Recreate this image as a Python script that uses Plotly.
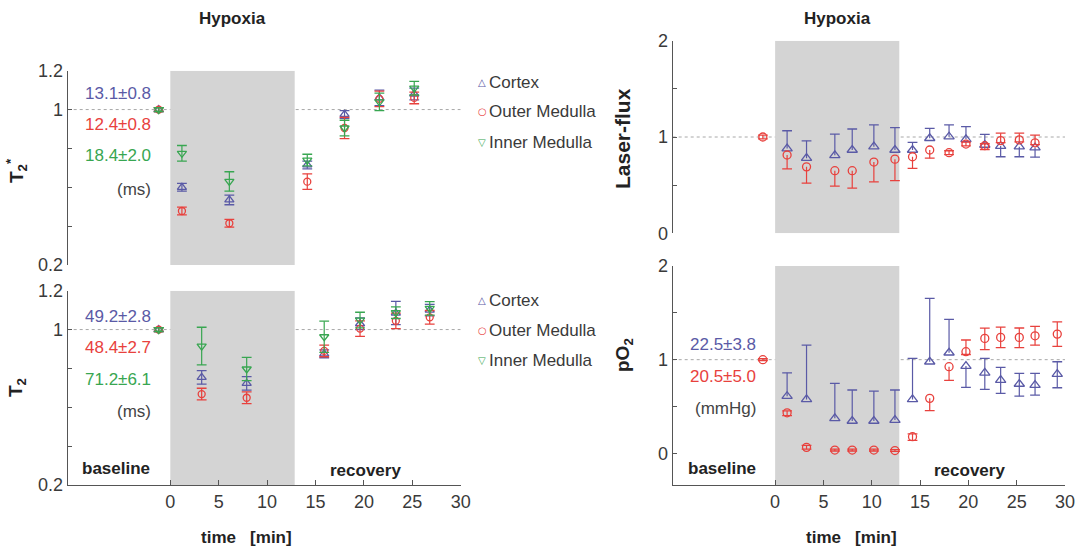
import plotly.graph_objects as go

W, H = 1082, 551

# ---------------- data ----------------
# T2* (top left)
t2s_time = [-1.2, 1.2, 6.1, 14.15, 18.0, 21.6, 25.2]
t2s_cortex = [1.0, 0.60, 0.535, 0.715, 0.975, 1.06, 1.08]
t2s_cortex_err = [0.01, 0.02, 0.025, 0.02, 0.02, 0.04, 0.03]
t2s_outer = [1.0, 0.478, 0.415, 0.629, 0.905, 1.055, 1.06]
t2s_outer_err = [0.01, 0.02, 0.02, 0.04, 0.055, 0.04, 0.03]
t2s_inner = [1.0, 0.775, 0.63, 0.74, 0.905, 1.04, 1.11]
t2s_inner_err = [0.01, 0.04, 0.05, 0.03, 0.04, 0.045, 0.035]

# T2 (bottom left)
t2_time = [-1.2, 3.24, 7.89, 15.9, 19.6, 23.3, 26.8]
t2_cortex = [1.0, 0.754, 0.723, 0.875, 1.03, 1.085, 1.10]
t2_cortex_err = [0.01, 0.035, 0.035, 0.02, 0.03, 0.06, 0.03]
t2_outer = [1.0, 0.668, 0.649, 0.89, 1.005, 1.045, 1.063]
t2_outer_err = [0.01, 0.03, 0.03, 0.03, 0.04, 0.04, 0.035]
t2_inner = [1.0, 0.915, 0.797, 0.963, 1.049, 1.087, 1.109]
t2_inner_err = [0.01, 0.097, 0.06, 0.08, 0.04, 0.03, 0.035]

# Laser-flux (top right)
lf_cortex_time = [1.24, 3.25, 6.18, 7.98, 10.22, 12.4, 14.22, 16.0, 18.0, 19.75, 21.7, 23.34, 25.27, 26.9]
lf_cortex = [0.88, 0.78, 0.81, 0.865, 0.90, 0.865, 0.865, 0.987, 1.003, 0.976, 0.917, 0.906, 0.90, 0.89]
lf_cortex_up = [0.185, 0.18, 0.22, 0.218, 0.225, 0.232, 0.08, 0.103, 0.122, 0.131, 0.111, 0.0, 0.0, 0.0]
lf_cortex_dn = [0, 0, 0, 0, 0, 0, 0, 0, 0, 0, 0.0, 0.111, 0.105, 0.10]
lf_outer_time = [-1.27, 1.24, 3.25, 6.18, 7.98, 10.22, 12.4, 14.22, 16.0, 18.0, 19.75, 21.7, 23.34, 25.27, 26.9]
lf_outer = [1.0, 0.813, 0.69, 0.65, 0.65, 0.74, 0.77, 0.795, 0.865, 0.837, 0.927, 0.91, 0.962, 0.97, 0.94]
lf_outer_up = [0.02, 0, 0, 0, 0, 0, 0, 0, 0, 0.02, 0.02, 0.02, 0.078, 0.07, 0.08]
lf_outer_dn = [0.02, 0.145, 0.17, 0.16, 0.18, 0.205, 0.224, 0.12, 0.085, 0.02, 0.02, 0.04, 0.02, 0.02, 0.02]

# pO2 (bottom right)
po2_cortex_time = [1.24, 3.25, 6.18, 7.98, 10.22, 12.4, 14.22, 16.0, 18.0, 19.75, 21.7, 23.34, 25.27, 26.9, 29.2]
po2_cortex = [0.61, 0.576, 0.374, 0.345, 0.345, 0.355, 0.576, 0.978, 1.074, 0.932, 0.86, 0.782, 0.74, 0.729, 0.846]
po2_cortex_up = [0.25, 0.58, 0.373, 0.331, 0.32, 0.321, 0.438, 0.676, 0.356, 0.0, 0.154, 0.136, 0.114, 0.125, 0.132]
po2_cortex_dn = [0, 0, 0, 0, 0, 0, 0, 0, 0, 0.228, 0.177, 0.142, 0.13, 0.107, 0.146]
po2_outer_time = [-1.27, 1.24, 3.25, 6.18, 7.98, 10.22, 12.4, 14.22, 16.0, 18.0, 19.75, 21.7, 23.34, 25.27, 26.9, 29.2]
po2_outer = [1.0, 0.433, 0.064, 0.035, 0.035, 0.035, 0.03, 0.178, 0.587, 0.925, 1.085, 1.227, 1.238, 1.238, 1.255, 1.273]
po2_outer_up = [0.01, 0.02, 0.02, 0.01, 0.01, 0.01, 0.01, 0.03, 0, 0, 0.125, 0.11, 0.11, 0.1, 0.1, 0.13]
po2_outer_dn = [0.01, 0.03, 0.02, 0.01, 0.01, 0.01, 0.01, 0.04, 0.13, 0.145, 0.03, 0.12, 0.11, 0.11, 0.1, 0.13]

hypoxia_start, hypoxia_end = 0, 12.85
x_ticks = [0, 5, 10, 15, 20, 25, 30]
left_yticks = [0.2, 0.4, 0.6, 0.8, 1.0, 1.2]
left_yticktext = ["0.2", "", "", "", "1", "1.2"]
right_yticks = [0, 0.5, 1, 1.5, 2]
right_yticktext = ["0", "", "1", "", "2"]

series_names = ["Cortex", "Outer Medulla", "Inner Medulla"]
t2s_labels = ["13.1±0.8", "12.4±0.8", "18.4±2.0", "(ms)"]
t2_labels = ["49.2±2.8", "48.4±2.7", "71.2±6.1", "(ms)"]
po2_labels = ["22.5±3.8", "20.5±5.0", "(mmHg)"]

# ---------------- styles ----------------
BLUE = '#5a5aa6'
RED = '#e8413d'
GREEN = '#38a651'
TXT = '#3a3a3a'
AX = '#555555'
BOX = '#d4d4d4'
SANS = 'Liberation Sans, Arial, sans-serif'
BOLD = 'Liberation Sans, Arial, sans-serif'


def P(x, y):
    return x / W, 1 - y / H


fig = go.Figure()


def add_series(t, v, up, dn, color, symbol, size, xa, ya):
    xs, ys, cx, cy = [], [], [], []
    for ti, vi, u, d in zip(t, v, up, dn):
        xs += [ti, ti, None]
        ys += [vi - d, vi + u, None]
        if u > 0:
            cx.append(ti); cy.append(vi + u)
        if d > 0:
            cx.append(ti); cy.append(vi - d)
    common = dict(xaxis=xa, yaxis=ya, showlegend=False, hoverinfo='skip')
    fig.add_trace(go.Scatter(x=xs, y=ys, mode='lines', line=dict(color=color, width=1.2), **common))
    fig.add_trace(go.Scatter(x=cx, y=cy, mode='markers',
                             marker=dict(symbol='line-ew', size=7, line=dict(color=color, width=1.3)), **common))
    fig.add_trace(go.Scatter(x=t, y=v, mode='markers',
                             marker=dict(symbol=symbol, size=size, color=color, line=dict(width=1.3)), **common))


# T2*
add_series(t2s_time, t2s_cortex, t2s_cortex_err, t2s_cortex_err, BLUE, 'triangle-up-open', 8, 'x', 'y')
add_series(t2s_time, t2s_outer, t2s_outer_err, t2s_outer_err, RED, 'circle-open', 7, 'x', 'y')
add_series(t2s_time, t2s_inner, t2s_inner_err, t2s_inner_err, GREEN, 'triangle-down-open', 8, 'x', 'y')
# T2
add_series(t2_time, t2_cortex, t2_cortex_err, t2_cortex_err, BLUE, 'triangle-up-open', 8, 'x2', 'y2')
add_series(t2_time, t2_outer, t2_outer_err, t2_outer_err, RED, 'circle-open', 7, 'x2', 'y2')
add_series(t2_time, t2_inner, t2_inner_err, t2_inner_err, GREEN, 'triangle-down-open', 8, 'x2', 'y2')
# Laser flux
add_series(lf_cortex_time, lf_cortex, lf_cortex_up, lf_cortex_dn, BLUE, 'triangle-up-open', 9, 'x3', 'y3')
add_series(lf_outer_time, lf_outer, lf_outer_up, lf_outer_dn, RED, 'circle-open', 8, 'x3', 'y3')
# pO2
add_series(po2_cortex_time, po2_cortex, po2_cortex_up, po2_cortex_dn, BLUE, 'triangle-up-open', 9, 'x4', 'y4')
add_series(po2_outer_time, po2_outer, po2_outer_up, po2_outer_dn, RED, 'circle-open', 8, 'x4', 'y4')

# ---------------- axes ----------------
XL = [67.7 / W, 460.7 / W]
XR = [672.7 / W, 1065 / W]
xrange_ = [-10.6, 30]

yaxis_common = dict(showline=True, linecolor=AX, linewidth=1, ticks='inside', ticklen=4, tickcolor=AX,
                    tickfont=dict(family=SANS, size=18, color=TXT), showgrid=False, zeroline=False,
                    automargin=False)
xhidden = dict(visible=False, range=xrange_, showgrid=False, zeroline=False, automargin=False)
xshown = dict(range=xrange_, showline=True, linecolor=AX, linewidth=1, ticks='inside', ticklen=5, tickcolor=AX,
              tickvals=x_ticks, tickfont=dict(family=SANS, size=18, color=TXT), showgrid=False, zeroline=False,
              automargin=False)

fig.update_layout(
    xaxis=dict(domain=XL, anchor='y', **xhidden),
    yaxis=dict(domain=[1 - 265 / H, 1 - 70.7 / H], anchor='x', range=[0.2, 1.2],
               tickvals=left_yticks, ticktext=left_yticktext, **yaxis_common),
    xaxis2=dict(domain=XL, anchor='y2', **xshown),
    yaxis2=dict(domain=[1 - 485 / H, 1 - 290.7 / H], anchor='x2', range=[0.2, 1.2],
                tickvals=left_yticks, ticktext=left_yticktext, **yaxis_common),
    xaxis3=dict(domain=XR, anchor='y3', **xhidden),
    yaxis3=dict(domain=[1 - 233.3 / H, 1 - 40.7 / H], anchor='x3', range=[0, 2],
                tickvals=right_yticks, ticktext=right_yticktext, **yaxis_common),
    xaxis4=dict(domain=XR, anchor='y4', **xshown),
    yaxis4=dict(domain=[1 - 485 / H, 1 - 266 / H], anchor='x4', range=[-0.338, 2],
                tickvals=right_yticks, ticktext=right_yticktext, **yaxis_common),
)

# ---------------- shapes ----------------
shapes = []
panels = [('x', 'y', 0.2, 1.2), ('x2', 'y2', 0.2, 1.2), ('x3', 'y3', 0, 2), ('x4', 'y4', -0.338, 2)]
for xa, ya, y0, y1 in panels:
    shapes.append(dict(type='line', xref=xa, yref=ya, x0=xrange_[0], x1=30, y0=1, y1=1,
                       line=dict(color='#a8a8a8', width=1, dash='3px,3px'), layer='below'))
    shapes.append(dict(type='rect', xref=xa, yref=ya, x0=hypoxia_start, x1=hypoxia_end, y0=y0, y1=y1,
                       fillcolor=BOX, line=dict(width=0), layer='below'))
fig.update_layout(shapes=shapes)

# ---------------- annotations ----------------
ann = []


def text(x, y, s, size=18, color=TXT, family=SANS, xanchor='center', angle=0):
    px, py = P(x, y)
    ann.append(dict(x=px, y=py, xref='paper', yref='paper', text=s, showarrow=False, textangle=angle,
                    font=dict(family=family, size=size, color=color), xanchor=xanchor, yanchor='middle'))


# titles
text(232, 19, '<b>Hypoxia</b>', size=17, color='#222', family=BOLD)
text(837, 19, '<b>Hypoxia</b>', size=17, color='#222', family=BOLD)
# axis titles
text(17, 171, '<b>T<sub>2</sub><sup>*</sup></b>', size=19, color='#222', family=BOLD, angle=-90)
text(17, 388, '<b>T<sub>2</sub></b>', size=19, color='#222', family=BOLD, angle=-90)
text(622, 139, '<b>Laser-flux</b>', size=21, color='#222', family=BOLD, angle=-90)
text(624, 355, '<b>pO<sub>2</sub></b>', size=19, color='#222', family=BOLD, angle=-90)
# phase labels
for x in (116, 722):
    text(x, 468, '<b>baseline</b>', size=17, color='#222')
for x in (365, 969):
    text(x, 470, '<b>recovery</b>', size=17, color='#222')
for x in (246, 851):
    text(x, 537, '<b>time\u00a0\u00a0\u00a0[min]</b>', size=17, color='#222')

# baseline values
for s, y, c in zip(t2s_labels, [93, 125, 156, 189], [BLUE, RED, GREEN, '#444']):
    text(153, y, s, color=c, xanchor='right', size=17)
for s, y, c in zip(t2_labels, [316, 347, 379, 411], [BLUE, RED, GREEN, '#444']):
    text(153, y, s, color=c, xanchor='right', size=17)
for s, y, c in zip(po2_labels, [344, 376, 408], [BLUE, RED, '#444']):
    text(758, y, s, color=c, xanchor='right', size=17)

# legends
syms = ['\u25B3', '\u25CB', '\u25BD']
cols = [BLUE, RED, GREEN]
for ys in ([82, 112, 142], [300, 330, 360]):
    for name, sym, c, y in zip(series_names, syms, cols, ys):
        text(482, y, sym, size=10, color=c, family='DejaVu Sans')
        text(487, y, name, size=17, color=TXT, xanchor='left')

fig.update_layout(annotations=ann, width=W, height=H,
                  margin=dict(l=0, r=0, t=0, b=0, pad=0, autoexpand=False),
                  paper_bgcolor='white', plot_bgcolor='rgba(0,0,0,0)', showlegend=False)

fig.write_html('out.html', config={'displayModeBar': False, 'staticPlot': True},
               post_script="document.body.style.margin='0';document.body.style.padding='0';")
